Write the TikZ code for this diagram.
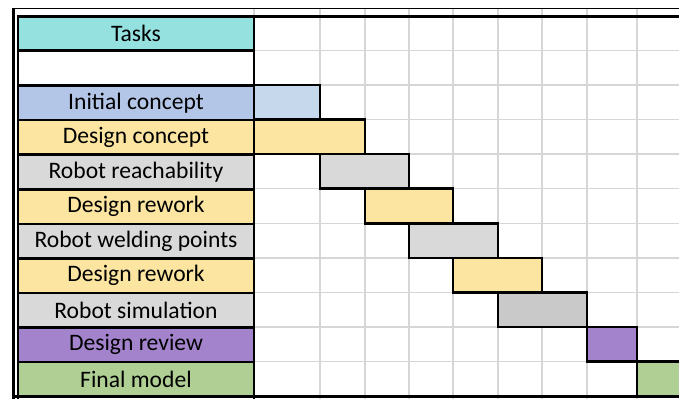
\documentclass[tikz,border=0pt]{standalone}
\usepackage{fontspec}
\setmainfont{Carlito}

\definecolor{taskcyan}{HTML}{95E1E0}
\definecolor{conceptblue}{HTML}{B4C6E7}
\definecolor{barblue}{HTML}{C5D8EC}
\definecolor{designyellow}{HTML}{FBE5A0}
\definecolor{robotgray}{HTML}{D9D9D9}
\definecolor{simgray}{HTML}{C9C9C9}
\definecolor{reviewpurple}{HTML}{A383CC}
\definecolor{finalgreen}{HTML}{B0CF94}
\definecolor{gridgray}{HTML}{D6D6D6}

\begin{document}
\begin{tikzpicture}[x=1pt,y=-1pt,
  cell/.style={draw,line width=2.5pt,minimum width=236pt,minimum height=34.5pt,
    inner sep=0pt,font=\fontsize{23.6}{28}\selectfont},
  bar/.style={draw,line width=2.5pt},
  gridline/.style={gridgray,line width=1.5pt}]
  \useasboundingbox (0,0) rectangle (679,399);
  \clip (0,0) rectangle (679,399);

  % sheet grid
  \foreach \x in {254,320,365,409,453,498,542,587,637}
    \draw[gridline] (\x,8) -- (\x,399);
  \foreach \y in {50.5,85.1,119.6,154.2,188.7,223.3,257.8,292.4,326.9,361.5}
    \draw[gridline] (254,\y) -- (679,\y);

  % task bars
  \draw[bar,fill=barblue] (254,85.1) rectangle (320,119.6);
  \draw[bar,fill=designyellow] (254,119.6) rectangle (365,154.2);
  \draw[bar,fill=robotgray] (320,154.2) rectangle (409,188.7);
  \draw[bar,fill=designyellow] (365,188.7) rectangle (453,223.3);
  \draw[bar,fill=robotgray] (409,223.3) rectangle (498,257.8);
  \draw[bar,fill=designyellow] (453,257.8) rectangle (542,292.4);
  \draw[bar,fill=simgray] (498,292.4) rectangle (587,326.9);
  \draw[bar,fill=reviewpurple] (587,326.9) rectangle (637,361.5);
  \draw[bar,fill=finalgreen] (637,361.5) rectangle (690,396);

  % task column
  \node[cell,fill=taskcyan] (tasks) at (136,33.8) {Tasks};
  \node[cell,fill=white] (blank) at (136,67.8) {};
  \node[cell,fill=conceptblue] (initial) at (136,102.9) {Initial concept};
  \node[cell,fill=designyellow] (concept) at (136,137.4) {Design concept};
  \node[cell,fill=robotgray] (reach) at (136,172) {Robot reachability};
  \node[cell,fill=designyellow] (rework) at (136,206.5) {Design rework};
  \node[cell,fill=robotgray] (welding) at (136,241) {Robot welding points};
  \node[cell,fill=designyellow] (reworktwo) at (136,275.6) {Design rework};
  \node[cell,fill=robotgray] (simulation) at (136,310.1) {Robot simulation};
  \node[cell,fill=reviewpurple] (review) at (136,344.7) {Design review};
  \node[cell,fill=finalgreen] (final) at (136,379.2) {Final model};

  % frame
  \draw[line width=1.5pt] (12,8.5) -- (679,8.5);
  \draw[line width=3pt] (17,16.5) -- (679,16.5);
  \draw[line width=3pt] (12,396) -- (679,396);
  \draw[line width=3pt] (13.5,8) -- (13.5,399);
  \draw[line width=2pt] (18,16) -- (18,399);
  \draw[line width=2.5pt] (254,16) -- (254,399);
\end{tikzpicture}
\end{document}
